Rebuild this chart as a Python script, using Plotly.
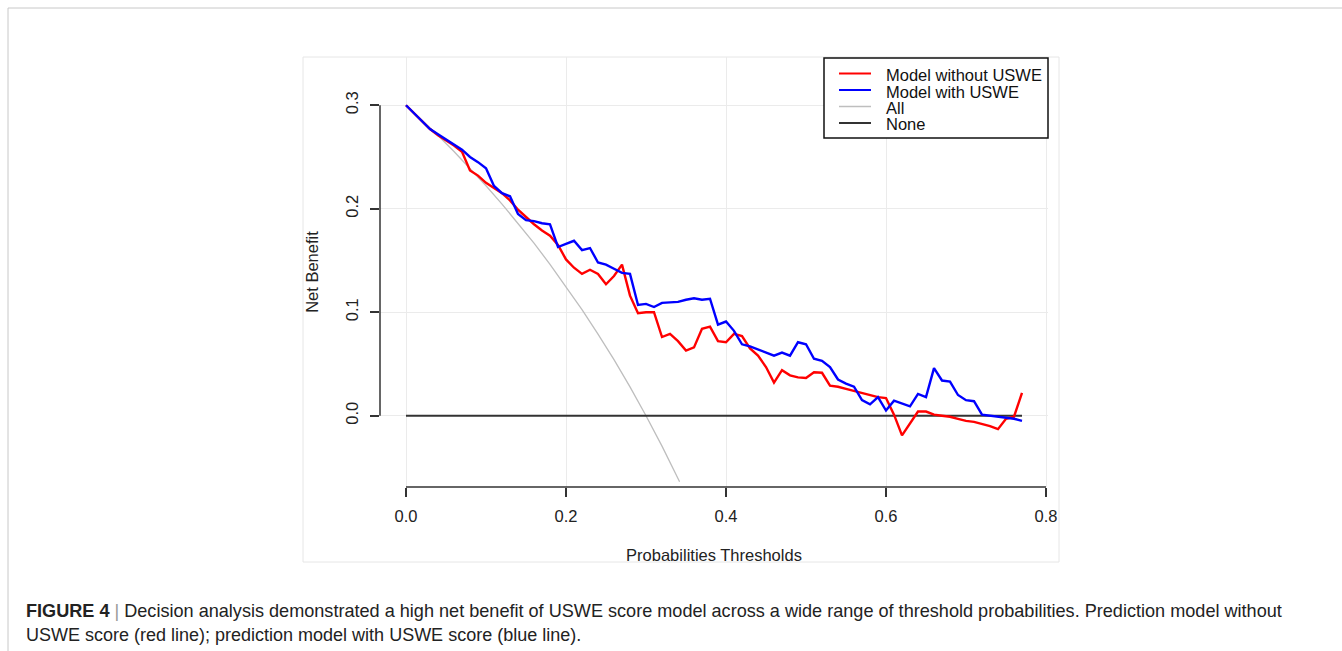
import plotly.graph_objects as go

# ---------------- data ----------------
thresholds = [0.00, 0.01, 0.02, 0.03, 0.04, 0.05, 0.06, 0.07, 0.08, 0.09,
              0.10, 0.11, 0.12, 0.13, 0.14, 0.15, 0.16, 0.17, 0.18, 0.19,
              0.20, 0.21, 0.22, 0.23, 0.24, 0.25, 0.26, 0.27, 0.28, 0.29,
              0.30, 0.31, 0.32, 0.33, 0.34, 0.35, 0.36, 0.37, 0.38, 0.39,
              0.40, 0.41, 0.42, 0.43, 0.44, 0.45, 0.46, 0.47, 0.48, 0.49,
              0.50, 0.51, 0.52, 0.53, 0.54, 0.55, 0.56, 0.57, 0.58, 0.59,
              0.60, 0.61, 0.62, 0.63, 0.64, 0.65, 0.66, 0.67, 0.68, 0.69,
              0.70, 0.71, 0.72, 0.73, 0.74, 0.75, 0.76, 0.77]

nb_without_uswe = [0.300, 0.292, 0.285, 0.277, 0.271, 0.266, 0.261, 0.255, 0.237, 0.232,
                   0.225, 0.220, 0.215, 0.208, 0.199, 0.192, 0.185, 0.179, 0.174, 0.165,
                   0.151, 0.143, 0.137, 0.141, 0.137, 0.127, 0.135, 0.146, 0.116, 0.099,
                   0.100, 0.100, 0.076, 0.079, 0.072, 0.063, 0.066, 0.084, 0.086, 0.072,
                   0.071, 0.079, 0.077, 0.065, 0.058, 0.047, 0.032, 0.044, 0.039, 0.037,
                   0.0365, 0.042, 0.0415, 0.029, 0.028, 0.026, 0.024, 0.022, 0.020, 0.018,
                   0.017, 0.001, -0.019, -0.008, 0.004, 0.004, 0.001, 0.000, -0.001, -0.003,
                   -0.005, -0.006, -0.008, -0.010, -0.013, -0.003, -0.001, 0.022]

nb_with_uswe = [0.300, 0.292, 0.284, 0.277, 0.272, 0.267, 0.262, 0.257, 0.250, 0.245,
                0.239, 0.222, 0.215, 0.212, 0.195, 0.189, 0.188, 0.186, 0.185, 0.163,
                0.166, 0.169, 0.160, 0.162, 0.148, 0.146, 0.142, 0.138, 0.137, 0.107,
                0.108, 0.105, 0.109, 0.1096, 0.110, 0.112, 0.1134, 0.112, 0.113, 0.088,
                0.091, 0.082, 0.069, 0.067, 0.064, 0.061, 0.058, 0.061, 0.058, 0.071,
                0.069, 0.055, 0.053, 0.047, 0.035, 0.031, 0.028, 0.015, 0.011, 0.018,
                0.005, 0.0145, 0.012, 0.009, 0.021, 0.018, 0.046, 0.034, 0.033, 0.020,
                0.015, 0.014, 0.001, 0.000, -0.001, -0.002, -0.003, -0.005]

all_thresholds = [0.00, 0.02, 0.04, 0.06, 0.08, 0.10, 0.12, 0.14, 0.16, 0.18,
                  0.20, 0.22, 0.24, 0.26, 0.28, 0.30, 0.32, 0.342]
nb_all = [0.300, 0.2857, 0.2708, 0.2553, 0.2391, 0.2222, 0.2045, 0.1860, 0.1667, 0.1463,
          0.125, 0.1026, 0.0789, 0.0541, 0.0278, 0.000, -0.0294, -0.0638]

none_thresholds = [0.00, 0.77]
nb_none = [0.0, 0.0]

x_ticks = [0.0, 0.2, 0.4, 0.6, 0.8]
x_tick_labels = ["0.0", "0.2", "0.4", "0.6", "0.8"]
y_ticks = [0.0, 0.1, 0.2, 0.3]
y_tick_labels = ["0.0", "0.1", "0.2", "0.3"]

legend_labels = ["Model without USWE", "Model with USWE", "All", "None"]
legend_colors = ["#FF0000", "#0000FF", "#BEBEBE", "#333333"]

caption_line1 = ("<b>FIGURE 4</b> <span style='color:#999'>|</span> Decision analysis demonstrated a high net benefit "
                 "of USWE score model across a wide range of threshold probabilities. Prediction model without")
caption_line2 = "USWE score (red line); prediction model with USWE score (blue line)."

# ---------------- layout geometry ----------------
W, H = 1342, 651
PL, PR, PT, PB = 380, 1048, 57, 487   # plot area in pixels


def px(x):
    return (x - PL) / (PR - PL)


def py(y):
    return (PB - y) / (PB - PT)


FONT = "Liberation Sans, Arial, sans-serif"

fig = go.Figure()
fig.add_trace(go.Scatter(x=all_thresholds, y=nb_all, mode="lines", name="All",
                         line=dict(color="#BEBEBE", width=1.3), showlegend=False))
fig.add_trace(go.Scatter(x=none_thresholds, y=nb_none, mode="lines", name="None",
                         line=dict(color="#333333", width=2), showlegend=False))
fig.add_trace(go.Scatter(x=thresholds, y=nb_without_uswe, mode="lines", name="Model without USWE",
                         line=dict(color="#FF0000", width=2.4), showlegend=False))
fig.add_trace(go.Scatter(x=thresholds, y=nb_with_uswe, mode="lines", name="Model with USWE",
                         line=dict(color="#0000FF", width=2.4), showlegend=False))

shapes = []
annotations = []

# R-style axis lines (first to last tick)
shapes.append(dict(type="line", xref="x", yref="paper", x0=x_ticks[0], x1=x_ticks[-1], y0=0, y1=0,
                   line=dict(color="#333333", width=1.5), layer="above"))
shapes.append(dict(type="line", xref="paper", yref="y", x0=0, x1=0, y0=y_ticks[0], y1=y_ticks[-1],
                   line=dict(color="#333333", width=1.5), layer="above"))

# legend box
lx0, ly0, lx1, ly1 = 824, 58, 1048, 138
shapes.append(dict(type="rect", xref="paper", yref="paper", x0=px(lx0), x1=px(lx1), y0=py(ly1), y1=py(ly0),
                   line=dict(color="#111111", width=1.5), fillcolor="white", layer="above"))
row_y = [73.5, 90, 106.5, 123]
for lab, col, ry in zip(legend_labels, legend_colors, row_y):
    shapes.append(dict(type="line", xref="paper", yref="paper", x0=px(839), x1=px(871), y0=py(ry), y1=py(ry),
                       line=dict(color=col, width=2 if col != "#BEBEBE" else 1.5), layer="above"))
    annotations.append(dict(xref="paper", yref="paper", x=px(884), y=py(ry + 1.5), text=lab,
                            showarrow=False, xanchor="left", yanchor="middle",
                            font=dict(family=FONT, size=16.5, color="#111111")))

# chart image border and page frame
shapes.append(dict(type="rect", xref="paper", yref="paper", x0=px(303), x1=px(1059), y0=py(562), y1=py(57),
                   line=dict(color="#E6E6E6", width=1), layer="below"))
shapes.append(dict(type="line", xref="paper", yref="paper", x0=px(8), x1=px(1342), y0=py(8), y1=py(8),
                   line=dict(color="#C8C8C8", width=1)))
shapes.append(dict(type="line", xref="paper", yref="paper", x0=px(8), x1=px(8), y0=py(8), y1=py(651),
                   line=dict(color="#C8C8C8", width=1)))

# caption
annotations.append(dict(xref="paper", yref="paper", x=px(24), y=py(611), text=caption_line1,
                        showarrow=False, xanchor="left", yanchor="middle",
                        font=dict(family=FONT, size=18.1, color="#222222")))
annotations.append(dict(xref="paper", yref="paper", x=px(24), y=py(635), text=caption_line2,
                        showarrow=False, xanchor="left", yanchor="middle",
                        font=dict(family=FONT, size=18, color="#222222")))

fig.update_layout(
    width=W, height=H,
    margin=dict(l=PL, r=W - PR, t=PT, b=H - PB, pad=0),
    paper_bgcolor="white", plot_bgcolor="white",
    font=dict(family=FONT, size=16.5, color="#222222"),
    shapes=shapes, annotations=annotations,
    xaxis=dict(range=[-0.0325, 0.8025], tickmode="array", tickvals=x_ticks, ticktext=x_tick_labels,
               showgrid=True, gridcolor="#EBEBEB", gridwidth=1, zeroline=False, showline=False,
               ticks="outside", ticklen=9, tickwidth=1.5, tickcolor="#333333",
               tickfont=dict(family=FONT, size=16.5, color="#222222"), ticklabelstandoff=5,
               title=dict(text="Probabilities Thresholds", standoff=25,
                          font=dict(family=FONT, size=16.5, color="#222222"))),
    yaxis=dict(range=[-0.0689, 0.3466], tickmode="array", tickvals=y_ticks, ticktext=y_tick_labels,
               showgrid=True, gridcolor="#EBEBEB", gridwidth=1, zeroline=False, showline=False,
               ticks="outside", ticklen=9, tickwidth=1.5, tickcolor="#333333", tickangle=-90,
               tickfont=dict(family=FONT, size=16.5, color="#222222"), ticklabelstandoff=5,
               title=dict(text="Net Benefit", standoff=20,
                          font=dict(family=FONT, size=16.5, color="#222222"))),
)

fig.write_html("out.html", config={"displayModeBar": False},
               post_script="document.body.style.margin='0';")
